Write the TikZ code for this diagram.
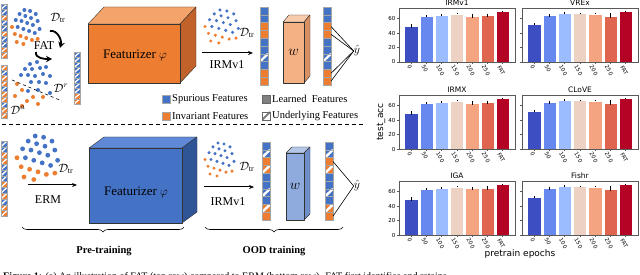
\documentclass[tikz,border=0pt]{standalone}
\usepackage{fontspec}
\setmainfont{Liberation Serif}
\newfontfamily\plotfont{DejaVu Sans}
\usetikzlibrary{arrows.meta,decorations.pathreplacing}

\definecolor{fblue}{HTML}{4472C4}
\definecolor{forange}{HTML}{ED7D31}
\definecolor{otop}{HTML}{F4A46A}
\definecolor{oside}{HTML}{C0622A}
\definecolor{btop}{HTML}{5F88D6}
\definecolor{bside}{HTML}{2F5597}
\definecolor{wofront}{HTML}{F4B183}
\definecolor{wotop}{HTML}{F8CBAD}
\definecolor{woside}{HTML}{D69062}
\definecolor{wbfront}{HTML}{8FAADC}
\definecolor{wbtop}{HTML}{B4C7E7}
\definecolor{wbside}{HTML}{6F8FCB}
\definecolor{dotblue}{HTML}{4472C4}
\definecolor{dotorange}{HTML}{ED7D31}
\definecolor{learned}{HTML}{7F7F7F}
\definecolor{bar0}{HTML}{3C4EC2}
\definecolor{bar1}{HTML}{6788EE}
\definecolor{bar2}{HTML}{9BBCFF}
\definecolor{bar3}{HTML}{EDD1C2}
\definecolor{bar4}{HTML}{F5A482}
\definecolor{bar5}{HTML}{E0654F}
\definecolor{bar6}{HTML}{B40426}

\tikzset{
 cellline/.style={draw=black!35, line width=0.3pt},
 cubeline/.style={draw=black!80, line width=0.4pt, line join=round},
 arr/.style={-{Stealth[length=5pt,width=4pt]}, line width=1pt},
 fatarr/.style={-{Stealth[length=6pt,width=6.5pt]}, line width=1.8pt},
 lbl/.style={font=\fontsize{12}{14}\selectfont, inner sep=0},
 boxtxt/.style={font=\fontsize{13}{15}\selectfont, inner sep=0},
 legtxt/.style={font=\fontsize{10.5}{12}\selectfont, anchor=west, inner sep=0},
 phasetxt/.style={font=\bfseries\fontsize{10.5}{12}\selectfont, inner sep=0},
 plottitle/.style={font=\plotfont\fontsize{7.5}{9}\selectfont, inner sep=0},
 ticklab/.style={font=\plotfont\fontsize{5.5}{6.5}\selectfont, inner sep=0},
 axlab/.style={font=\plotfont\fontsize{9}{10}\selectfont, inner sep=0},
 axisline/.style={draw=black!65, line width=0.6pt},
 braceline/.style={decorate, decoration={brace, amplitude=5pt, mirror}, line width=0.6pt},
 yhatline/.style={line width=0.6pt},
}

% feature column: x left, y top, width, cell height, band width, list colour/hatch
\newcommand{\featcol}[6]{%
  \foreach \cc/\hh [count=\ii from 0] in {#6}{%
    \pgfmathsetmacro{\yy}{#2+\ii*#4}%
    \pgfmathsetmacro{\yb}{\yy+#4}%
    \fill[\cc] (#1,\yy) rectangle ({#1+#3},\yb);
    \ifnum\hh=1\relax
      \begin{scope}
        \clip (#1,\yy) rectangle ({#1+#3},\yb);
        \draw[white, line width=#5pt] (#1,\yb) -- ({#1+#3},\yy);
      \end{scope}
    \fi
    \draw[cellline] (#1,\yy) rectangle ({#1+#3},\yb);
  }%
}

% dot cloud: x, y, sx, sy, radius
\newcommand{\dotcloud}[5]{%
  \foreach \a/\b in {13/0,19/1,8/4,25/4,14/6,20/8,4/10,10/11,27/11,16/13,22/15,6/17,29/19,12/19,18/21,24/23}
    \fill[dotblue] ({#1+#3*\a},{#2+#4*\b}) circle[radius=#5pt];
  \foreach \a/\b in {0/17,3/24,9/26,15/28,21/30,5/32,12/34,27/29}
    \fill[dotorange] ({#1+#3*\a},{#2+#4*\b}) circle[radius=#5pt];
}

% cube: x1,y1,x2,y2,dx,dy,front,top,side
\newcommand{\mycube}[9]{%
  \filldraw[cubeline, fill=#8] (#1,#2) -- ({#1+#5},{#2+#6}) -- ({#3+#5},{#2+#6}) -- (#3,#2) -- cycle;
  \filldraw[cubeline, fill=#9] (#3,#2) -- ({#3+#5},{#2+#6}) -- ({#3+#5},{#4+#6}) -- (#3,#4) -- cycle;
  \filldraw[cubeline, fill=#7] (#1,#2) rectangle (#3,#4);
}

% bar chart: x0, y0, title, values v/e, ylabels 1/0, name
\newcommand{\barchart}[6]{%
\begin{scope}[shift={(#1,#2)}]
  \node[plottitle] (#6-title) at (58,-5) {#3};
  \foreach \v/\e [count=\i from 0] in {#4}{%
    \pgfmathsetmacro{\xc}{15.263*(\i+0.8)}%
    \pgfmathsetmacro{\xl}{\xc-6.7}%
    \pgfmathsetmacro{\xr}{\xc+6.7}%
    \pgfmathsetmacro{\yt}{54-\v*0.72}%
    \pgfmathsetmacro{\ya}{54-(\v+\e)*0.72}%
    \pgfmathsetmacro{\yz}{54-(\v-\e)*0.72}%
    \fill[bar\i] (\xl,54) rectangle (\xr,\yt);
    \draw[white, line width=0.5pt] (\xl,54) rectangle (\xr,\yt);
    \draw[line width=0.8pt] (\xc,\ya) -- (\xc,\yz);
    \draw[axisline] (\xc,54) -- (\xc,56.5);
  }
  \foreach \lab/\d [count=\i from 0] in {0/5.5,50/7,100/8.5,150/8.5,200/8.5,250/8.5,FAT/8.5}
    \node[ticklab, rotate=-60] (#6-x\i) at ({15.263*(\i+0.8)-1.5},{54+\d}) {\lab};
  \foreach \t in {0,20,40,60}
    \draw[axisline] (0,{54-\t*0.72}) -- (-2.5,{54-\t*0.72});
  \ifnum#5=1\relax
    \foreach \t in {0,20,40,60}
      \node[ticklab, anchor=east] (#6-y\t) at (-3.5,{54-\t*0.72}) {\t};
  \fi
  \draw[axisline] (0,0) rectangle (116,54);
\end{scope}}

\begin{document}
\begin{tikzpicture}[x=1pt,y=-1pt]
\clip (0,0) rectangle (640,275);
\fill[white] (0,0) rectangle (640,275);

%%%%%%%% TOP ROW (FAT) %%%%%%%%
\featcol{1}{4}{6}{5.4}{1.3}{fblue/1,fblue/1,forange/1,fblue/1,fblue/1,forange/1,fblue/1,fblue/1,forange/1,forange/1}
\dotcloud{12}{10}{0.95}{1.0}{2.0}
\node[lbl] (dtr1) at (58,18) {$\mathcal{D}_{\mathrm{tr}}$};
\node[lbl] (fat) at (44,46) {FAT};
\coordinate (fa1) at (50,31);
\coordinate (fa2) at (60,48);
\coordinate (fb1) at (36,52);
\coordinate (fb2) at (52,59);
\draw[fatarr] (fa1) to[out=10,in=75] (fa2);
\draw[fatarr] (fb1) to[out=-100,in=180] (fb2);

\featcol{1}{65}{6}{5.3}{1.3}{forange/1,fblue/1,forange/1,forange/1,fblue/1,forange/1,forange/1,fblue/1,forange/1,forange/1}
\foreach \a/\b in {30/64,37/62,25/69,32/69,40/68,46/67,21/75,28/75,35/76,43/74,50/76,31/82,39/82,46/83,28/91,38/90,50/93}
  \fill[dotblue] (\a,\b) circle[radius=2pt];
\foreach \a/\b in {17/84,22/90,15/96,33/97,43/97,27/101,38/104,22/106}
  \fill[dotorange] (\a,\b) circle[radius=2pt];
\coordinate (sepa) at (12,80);
\coordinate (sepb) at (62,101);
\draw[dashed, line width=0.6pt] (sepa) -- (sepb);
\node[lbl] (dr) at (61,88) {$\mathcal{D}^{r}$};
\node[lbl] (da) at (18,110) {$\mathcal{D}^{a}$};
\featcol{74}{52}{6}{5.2}{1.3}{fblue/1,fblue/1,fblue/1,fblue/1,fblue/1,fblue/1,fblue/1,fblue/1,forange/1,forange/1}

\mycube{88}{24}{180}{83}{16}{-17}{forange}{otop}{oside}
\node[boxtxt] (feat1) at (135,55) {Featurizer $\varphi$};

\dotcloud{205}{10}{1.15}{0.97}{1.7}
\node[lbl] (dtr2) at (247,33) {$\mathcal{D}_{\mathrm{tr}}$};
\coordinate (ta1) at (202,53);
\coordinate (ta2) at (253,53);
\draw[arr] (ta1) -- (ta2);
\node[lbl] (irm1) at (227,65) {IRMv1};

\featcol{260}{7}{8}{7.8}{2.2}{fblue/0,fblue/0,forange/0,forange/0,fblue/0,fblue/0,fblue/1,fblue/0,forange/0,forange/0}
\mycube{283}{22}{304}{83}{6}{-7}{wofront}{wotop}{woside}
\node[boxtxt, font=\fontsize{15}{16}\selectfont] (w1) at (293.5,52) {$w$};
\featcol{323}{7}{8}{7.8}{2.2}{fblue/0,fblue/0,forange/0,forange/0,fblue/0,fblue/0,fblue/1,fblue/0,forange/0,forange/0}
\node[boxtxt] (yhat1) at (357,51) {$\hat{y}$};
\foreach \yy in {26.5,34.3,73.3,81.1}
  \draw[yhatline] (331,\yy) -- (yhat1.west);

% legend
\fill[fblue] (162,95) rectangle (170,103);
\draw[cellline] (162,95) rectangle (170,103);
\node[legtxt] (lg1) at (172,99) {Spurious Features};
\fill[learned] (262,95) rectangle (270,103);
\draw[draw=black!60, line width=0.4pt] (262,95) rectangle (270,103);
\node[legtxt] (lg2) at (272,99) {Learned~ Features};
\fill[forange] (162,112) rectangle (170,120);
\draw[cellline] (162,112) rectangle (170,120);
\node[legtxt] (lg3) at (172,116) {Invariant Features};
\begin{scope}
  \clip (262,112) rectangle (270,120);
  \fill[white] (262,112) rectangle (270,120);
  \draw[learned, line width=2pt] (262,120) -- (270,112);
\end{scope}
\draw[draw=black!60, line width=0.4pt] (262,112) rectangle (270,120);
\node[legtxt] (lg4) at (272,116) {Underlying Features};

\coordinate (dl1) at (2,124);
\coordinate (dl2) at (365,124);
\draw[line width=0.7pt, dash pattern=on 4pt off 3pt] (dl1) -- (dl2);

%%%%%%%% BOTTOM ROW (ERM) %%%%%%%%
\featcol{1}{141}{6}{5.8}{1.3}{fblue/1,fblue/1,forange/1,forange/1,fblue/1,fblue/1,fblue/1,forange/1,fblue/1,forange/1,fblue/1,forange/1,forange/1}
\dotcloud{17}{136}{1.4}{1.28}{2.4}
\node[lbl] (dtr3) at (66,169) {$\mathcal{D}_{\mathrm{tr}}$};
\coordinate (ea1) at (28,185);
\coordinate (ea2) at (77,185);
\draw[arr] (ea1) -- (ea2);
\node[lbl] (erm) at (48,200) {ERM};

\mycube{89}{148}{182}{223}{15}{-11}{fblue}{btop}{bside}
\node[boxtxt] (feat2) at (136,192) {Featurizer $\varphi$};

\dotcloud{205}{143}{1.0}{0.97}{1.7}
\node[lbl] (dtr4) at (247,167) {$\mathcal{D}_{\mathrm{tr}}$};
\coordinate (ba1) at (204,187);
\coordinate (ba2) at (254,187);
\draw[arr] (ba1) -- (ba2);
\node[lbl] (irm2) at (228,202) {IRMv1};

\featcol{262}{142}{8}{7.8}{2.4}{fblue/0,fblue/1,forange/0,forange/1,fblue/0,fblue/0,fblue/1,fblue/0,forange/1,forange/0}
\mycube{286}{153}{304}{220}{6}{-6}{wbfront}{wbtop}{wbside}
\node[boxtxt, font=\fontsize{15}{16}\selectfont] (w2) at (295,186) {$w$};
\featcol{325}{142}{8}{7.8}{2.4}{fblue/0,fblue/1,forange/0,forange/1,fblue/0,fblue/0,fblue/1,fblue/0,forange/1,forange/0}
\node[boxtxt] (yhat2) at (357,186) {$\hat{y}$};
\foreach \yy in {161.5,216.1}
  \draw[yhatline] (333,\yy) -- (yhat2.west);

% braces
\coordinate (pb1) at (22,227);
\coordinate (pb2) at (184,227);
\draw[braceline] (pb1) -- (pb2);
\node[phasetxt] (pre) at (104,251) {Pre-training};
\coordinate (ob1) at (205,227);
\coordinate (ob2) at (343,227);
\draw[braceline] (ob1) -- (ob2);
\node[phasetxt] (ood) at (274,251) {OOD training};

%%%%%%%% CHARTS %%%%%%%%
\barchart{399}{8}{IRMv1}{50/3,63.5/1.5,65.5/1,67/0.6,64/2.5,64.5/2.5,70/0.8}{1}{c1}
\barchart{522}{8}{VREx}{53/1.2,65/2,68/0.8,68/0.5,67/1,64/3.5,70/0.6}{0}{c2}
\barchart{399}{95}{IRMX}{50/3,63.5/1.5,65.5/1,67/0.6,64/2.5,64.5/2.5,70/0.8}{1}{c3}
\barchart{522}{95}{CLoVE}{53/1.2,64.5/2.5,68/0.8,68/0.5,67/1,64/3.5,70.5/0.6}{0}{c4}
\barchart{399}{181}{IGA}{50/3,63.5/1.5,65.5/1,67/0.6,64.5/2.5,65/2.5,70/0.8}{1}{c5}
\barchart{522}{181}{Fishr}{53/1.2,64.5/2.5,68/0.8,68/0.5,67/1,64/3.5,70.5/0.6}{0}{c6}
\node[axlab, rotate=90] (ylab) at (381,122) {test\_acc};
\node[axlab] (xlab) at (520,254) {pretrain epochs};

% caption (cut off at the bottom edge, as in the reference)
\node[anchor=base west, text width=636pt, align=justify, inner sep=0, font=\fontsize{10}{12}\selectfont] (cap) at (3,279.5)
 {\textbf{Figure 1:} (a) An illustration of FAT (top row) compared to ERM (bottom row). FAT first identifies and retains};
\end{tikzpicture}
\end{document}
